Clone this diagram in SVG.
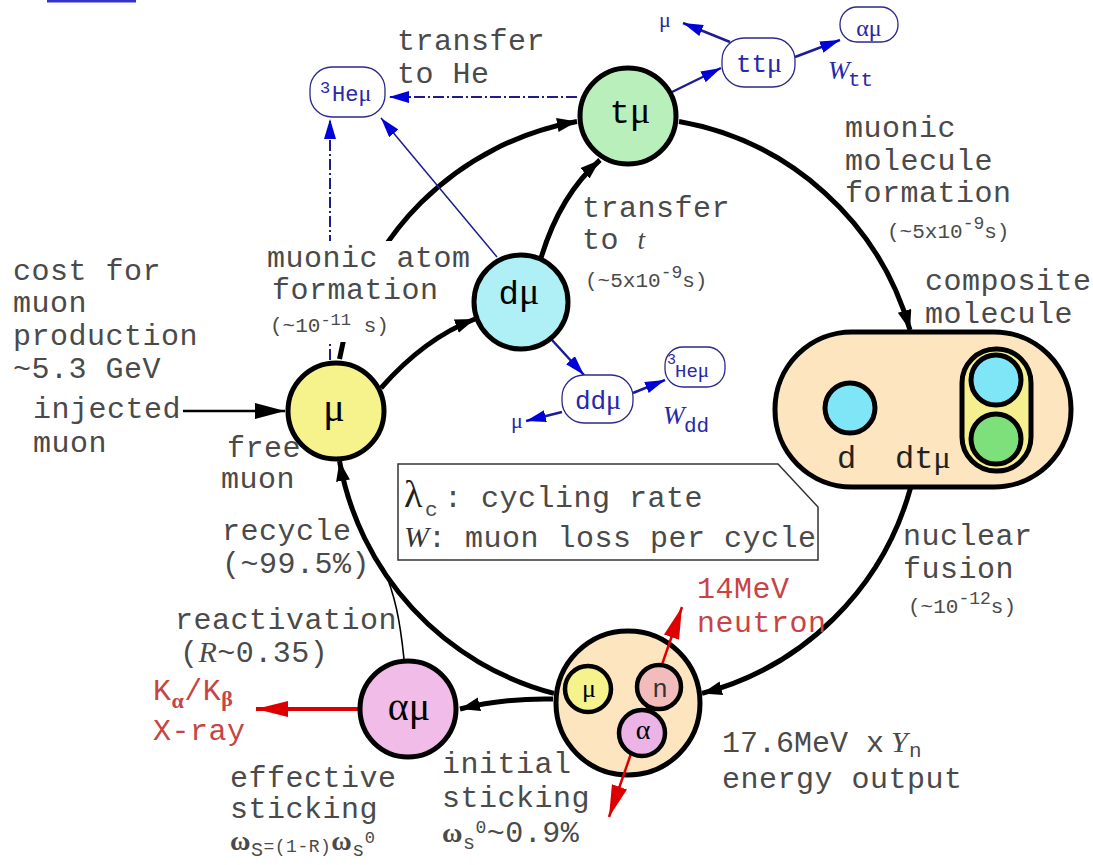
<svg xmlns="http://www.w3.org/2000/svg" width="1093" height="865" viewBox="0 0 1093 865">
<style>
.lb{font-family:"Liberation Mono",monospace;font-size:30px;fill:#4a4a4a;letter-spacing:0.5px}
.sm{font-size:21px;letter-spacing:0}
.gk{font-family:"Liberation Serif",serif}
.red{fill:#c84444}
.bt{fill:#2828a8}
.arc{fill:none;stroke:#000;stroke-width:5}
.bl{fill:none;stroke:#1c1c96;stroke-width:2.5}
.dd{fill:none;stroke:#1c1c8c;stroke-width:2;stroke-dasharray:11 3 2 3}
.node{stroke:#000;stroke-width:5}
.bnode{fill:#fff;stroke:#2a2a8c;stroke-width:1.3}
</style>
<defs>
<marker id="ak" markerUnits="userSpaceOnUse" markerWidth="22" markerHeight="16" refX="20" refY="7" orient="auto"><path d="M0,0 L20,7 L0,14 Z" fill="#000"/></marker>
<marker id="ai" markerUnits="userSpaceOnUse" markerWidth="32" markerHeight="18" refX="30" refY="8" orient="auto"><path d="M0,0 L30,8 L0,16 Z" fill="#000"/></marker>
<marker id="ab" markerUnits="userSpaceOnUse" markerWidth="22" markerHeight="14" refX="20" refY="6" orient="auto"><path d="M0,0 L20,6 L0,12 Z" fill="#0000d8"/></marker>
<marker id="ar" markerUnits="userSpaceOnUse" markerWidth="34" markerHeight="18" refX="32" refY="8" orient="auto-start-reverse"><path d="M0,0 L32,8 L0,16 Z" fill="#dd0000"/></marker>
</defs>
<rect width="1093" height="865" fill="#fff"/>
<rect x="47" y="0" width="89" height="2.5" fill="#3333cc"/>

<!-- connectors -->
<g id="connectors">
  <path class="arc" d="M339.5,359 A293,293 0 0 1 577,121.5" marker-end="url(#ak)"/>
  <path class="arc" d="M679,121.5 A293,293 0 0 1 910,330" marker-end="url(#ak)"/>
  <path class="arc" d="M910.5,488 A293,293 0 0 1 702,693.4" marker-end="url(#ak)"/>
  <path class="arc" d="M554,693.4 A293,293 0 0 1 339.5,461" marker-end="url(#ak)"/>
  <path class="arc" d="M381,388 Q425,338 475,319" marker-end="url(#ak)"/>
  <path class="arc" d="M541,258 Q560,195 600,160" marker-end="url(#ak)"/>
  <path class="arc" d="M553,699 Q505,698 460,709" marker-end="url(#ak)"/>
  <path d="M404,659 C400,620 395,595 383,567" fill="none" stroke="#000" stroke-width="1.6"/>
  <path d="M183,411 L285,411" fill="none" stroke="#000" stroke-width="2.5" marker-end="url(#ai)"/>
  <path d="M358,709 L256,709" fill="none" stroke="#dd0000" stroke-width="4" marker-end="url(#ar)"/>
  <!-- blue side branches -->
  <path class="dd" d="M577,97 L389,97" marker-end="url(#ab)"/>
  <path class="dd" d="M330,360 L330,119" marker-end="url(#ab)"/>
  <path d="M497,257 L381,118" fill="none" stroke="#1c1c8c" stroke-width="1.5" marker-end="url(#ab)"/>
  <path class="bl" d="M672,92 L721,68" marker-end="url(#ab)"/>
  <path class="bl" d="M730,42 L683,23" marker-end="url(#ab)"/>
  <path class="bl" d="M795,57 L840,40" marker-end="url(#ab)"/>
  <path class="bl" d="M552,340 L584,375" marker-end="url(#ab)"/>
  <path class="bl" d="M562,412 L526,421" marker-end="url(#ab)"/>
  <path class="bl" d="M633,393 L665,380" marker-end="url(#ab)"/>
</g>

<!-- labels -->
<g id="labels">
  <rect x="262" y="241" width="212" height="65" fill="#fff"/>
  <rect x="262" y="305" width="150" height="37" fill="#fff"/>
  <text class="lb" x="267" y="267">muonic atom</text>
  <text class="lb" x="272" y="299">formation</text>
  <text class="lb sm" x="270" y="332">(~10<tspan dy="-7" font-size="17">-11</tspan><tspan dy="7"> s)</tspan></text>

  <text class="lb" x="13" y="280">cost for</text>
  <text class="lb" x="13" y="312">muon</text>
  <text class="lb" x="13" y="345">production</text>
  <text class="lb" x="13" y="378">~5.3 GeV</text>
  <text class="lb" x="33" y="418">injected</text>
  <text class="lb" x="33" y="452">muon</text>
  <text class="lb" x="227" y="457">free</text>
  <text class="lb" x="221" y="488">muon</text>
  <text class="lb" x="222" y="540">recycle</text>
  <text class="lb" x="222" y="573">(~99.5%)</text>
  <text class="lb" x="175" y="629">reactivation</text>
  <text class="lb" x="180" y="662">(<tspan class="gk" font-style="italic">R</tspan>~0.35)</text>

  <text class="lb" x="397" y="50">transfer</text>
  <text class="lb" x="397" y="83">to He</text>
  <text class="lb" x="582" y="217">transfer</text>
  <text class="lb" x="582" y="249">to <tspan class="gk" font-style="italic" font-size="27">t</tspan></text>
  <text class="lb sm" x="585" y="287">(~5x10<tspan dy="-9" font-size="18">-9</tspan><tspan dy="9">s)</tspan></text>

  <text class="lb" x="845" y="137">muonic</text>
  <text class="lb" x="845" y="170">molecule</text>
  <text class="lb" x="845" y="202">formation</text>
  <text class="lb sm" x="887" y="238">(~5x10<tspan dy="-9" font-size="18">-9</tspan><tspan dy="9">s)</tspan></text>
  <text class="lb" x="925" y="290">composite</text>
  <text class="lb" x="925" y="323">molecule</text>

  <text class="lb" x="903" y="545">nuclear</text>
  <text class="lb" x="903" y="578">fusion</text>
  <text class="lb sm" x="908" y="613">(~10<tspan dy="-9" font-size="18">-12</tspan><tspan dy="9">s)</tspan></text>

  <text class="lb red" x="697" y="598">14MeV</text>
  <text class="lb red" x="697" y="632">neutron</text>
  <text class="lb" x="722" y="752" style="letter-spacing:0">17.6MeV x</text>
  <text class="gk" x="891" y="752" font-size="30" font-style="italic" fill="#4a4a4a">Y</text>
  <text class="lb sm" x="909" y="757">n</text>
  <text class="lb" x="722" y="788">energy output</text>

  <text class="lb" x="442" y="773">initial</text>
  <text class="lb" x="442" y="807">sticking</text>
  <text class="lb" x="442" y="842"><tspan class="gk" font-weight="bold" font-size="28">ω</tspan><tspan font-size="20" dy="7">s</tspan><tspan font-size="18" dy="-16">0</tspan><tspan dy="9">~0.9%</tspan></text>

  <text class="lb" x="230" y="787">effective</text>
  <text class="lb" x="230" y="818">sticking</text>
  <text class="lb" x="230" y="850"><tspan class="gk" font-weight="bold" font-size="28">ω</tspan><tspan font-size="20" dy="6">S</tspan><tspan font-size="18" dy="-4">=(1-R)</tspan><tspan class="gk" font-weight="bold" font-size="28" dy="-2">ω</tspan><tspan font-size="20" dy="6">s</tspan><tspan font-size="17" dy="-13">0</tspan></text>

  <text class="lb red" x="153" y="700">K<tspan class="gk" font-size="22" font-weight="bold" dy="8">α</tspan><tspan dy="-8">/K</tspan><tspan class="gk" font-size="22" font-weight="bold" dy="6">β</tspan></text>
  <text class="lb red" x="153" y="740">X-ray</text>

  <text class="bt gk" x="659" y="27" font-size="22">μ</text>
  <text class="bt gk" x="511" y="428" font-size="22">μ</text>
  <text class="bt gk" x="828" y="79" font-size="26" font-style="italic">W</text>
  <text class="lb sm bt" x="848" y="86">tt</text>
  <text class="bt gk" x="663" y="424" font-size="26" font-style="italic">W</text>
  <text class="lb sm bt" x="684" y="432">dd</text>
</g>

<!-- legend -->
<g id="legend">
  <path d="M398,464 L778,464 L818,507 L818,560 L398,560 Z" fill="#fff" stroke="#333" stroke-width="1.5"/>
  <text class="gk" x="404" y="507" font-size="38" fill="#222">λ</text>
  <text class="lb sm" x="425" y="516">c</text>
  <text class="lb" x="444" y="507">: cycling rate</text>
  <text class="gk" x="404" y="547" font-size="30" font-style="italic" fill="#333">W</text>
  <text class="lb" x="428" y="547">: muon loss per cycle</text>
</g>

<!-- main nodes -->
<g id="node-mu">
  <circle class="node" cx="336" cy="411" r="48" fill="#f6f28c"/>
  <text class="gk" x="334" y="421" font-size="40" text-anchor="middle">μ</text>
</g>
<g id="node-dmu">
  <circle class="node" cx="521" cy="302" r="47" fill="#aef0f6"/>
  <text x="519" y="304" text-anchor="middle"><tspan font-family="Liberation Mono,monospace" font-size="34">d</tspan><tspan class="gk" font-size="38">μ</tspan></text>
</g>
<g id="node-tmu">
  <circle class="node" cx="628" cy="116" r="48" fill="#b9efbb"/>
  <text x="630" y="123" text-anchor="middle"><tspan font-family="Liberation Mono,monospace" font-size="34">t</tspan><tspan class="gk" font-size="38">μ</tspan></text>
</g>
<g id="node-composite">
  <rect x="775" y="332" width="296" height="155" rx="77" fill="#fde6bf" stroke="#000" stroke-width="5"/>
  <circle cx="850" cy="408" r="25" fill="#7fe6f7" stroke="#000" stroke-width="5"/>
  <rect x="962" y="349" width="69" height="122" rx="34" fill="#f5ef90" stroke="#000" stroke-width="5"/>
  <circle cx="996" cy="380" r="25" fill="#7fe6f7" stroke="#000" stroke-width="5"/>
  <circle cx="996" cy="439" r="25" fill="#7de07a" stroke="#000" stroke-width="5"/>
  <text x="837" y="468" font-family="Liberation Mono,monospace" font-size="32" fill="#222">d</text>
  <text x="895" y="468" fill="#222"><tspan font-family="Liberation Mono,monospace" font-size="32">dt</tspan><tspan class="gk" font-size="32">μ</tspan></text>
</g>
<g id="node-fusion">
  <circle class="node" cx="628" cy="703" r="72" fill="#fde6bf"/>
  <path d="M682,607 L609,817" fill="none" stroke="#dd0000" stroke-width="2.5" marker-start="url(#ar)" marker-end="url(#ar)"/>
  <circle cx="588" cy="689" r="23" fill="#f6f28c" stroke="#000" stroke-width="4.5"/>
  <circle cx="659" cy="687" r="22" fill="#f3bcbc" stroke="#000" stroke-width="4.5"/>
  <circle cx="642" cy="733" r="23" fill="#ecb4e6" stroke="#000" stroke-width="4.5"/>
  <text class="gk" x="589" y="697" font-size="26" text-anchor="middle">μ</text>
  <text x="660" y="697" font-family="Liberation Mono,monospace" font-size="26" text-anchor="middle" fill="#333">n</text>
  <text class="gk" x="643" y="739" font-size="28" text-anchor="middle">α</text>
</g>
<g id="node-amu">
  <circle class="node" cx="408" cy="709" r="48" fill="#f2bce9"/>
  <text class="gk" x="409" y="720" font-size="40" text-anchor="middle">αμ</text>
</g>

<!-- side products -->
<g id="node-he3mu-top">
  <rect class="bnode" x="310" y="67" width="75" height="50" rx="22"/>
  <text class="bt" x="320" y="93" font-family="Liberation Mono,monospace" font-size="17">3</text>
  <text class="bt" x="332" y="101"><tspan font-family="Liberation Mono,monospace" font-size="22">He</tspan><tspan class="gk" font-size="24">μ</tspan></text>
</g>
<g id="node-ttmu">
  <rect class="bnode" x="722" y="38" width="73" height="49" rx="22"/>
  <text class="bt" x="759" y="72" text-anchor="middle"><tspan font-family="Liberation Mono,monospace" font-size="26">tt</tspan><tspan class="gk" font-size="28">μ</tspan></text>
</g>
<g id="node-amu-top">
  <rect class="bnode" x="840" y="7" width="58" height="35" rx="17"/>
  <text class="bt gk" x="869" y="36" font-size="24" text-anchor="middle">αμ</text>
</g>
<g id="node-ddmu">
  <rect class="bnode" x="562" y="375" width="71" height="48" rx="22"/>
  <text class="bt" x="598" y="409" text-anchor="middle"><tspan font-family="Liberation Mono,monospace" font-size="26">dd</tspan><tspan class="gk" font-size="28">μ</tspan></text>
</g>
<g id="node-he3mu-bottom">
  <rect class="bnode" x="665" y="347" width="60" height="40" rx="18"/>
  <text class="bt" x="667" y="364" font-family="Liberation Mono,monospace" font-size="15">3</text>
  <text class="bt" x="675" y="377"><tspan font-family="Liberation Mono,monospace" font-size="19">He</tspan><tspan class="gk" font-size="21">μ</tspan></text>
</g>
</svg>
